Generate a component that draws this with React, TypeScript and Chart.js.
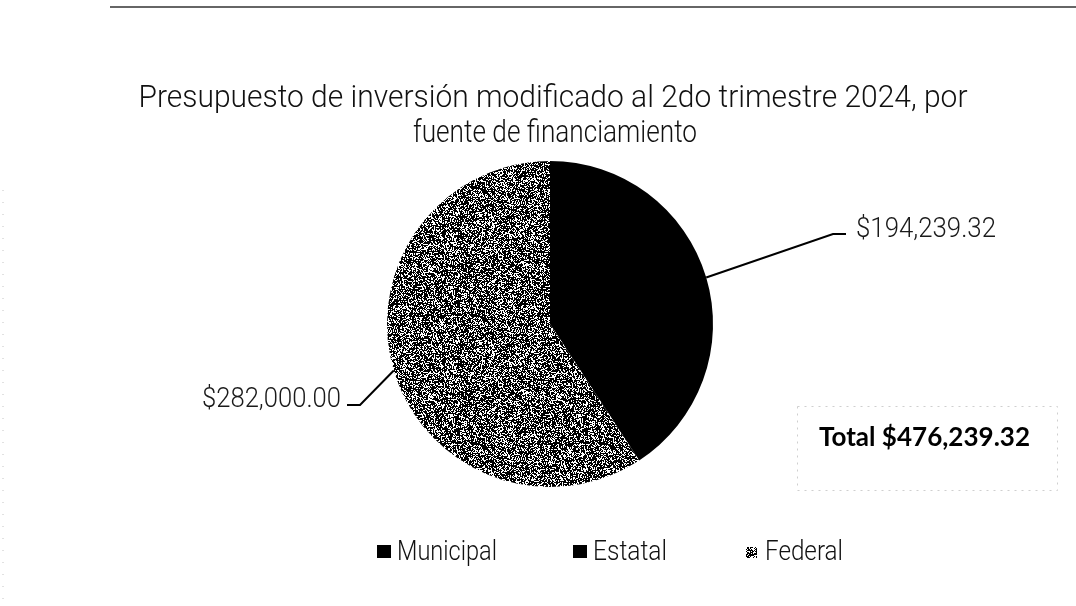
import React, { useEffect, useRef } from 'react';
import { Chart, registerables } from 'chart.js';

Chart.register(...registerables);

const categories = ['Municipal', 'Estatal', 'Federal'];
const values = [0, 194239.32, 282000.0];
const valueLabels = ['', '$194,239.32', '$282,000.00'];
const titleLines = [
  'Presupuesto de inversión modificado al 2do trimestre 2024, por',
  'fuente de financiamiento',
];
const totalLabel = 'Total $476,239.32';

// label layout (style/position only)
const labelLayout: Record<number, { elbow: [number, number]; end: [number, number]; tx: number; ty: number; w: number; align: CanvasTextAlign }> = {
  1: { elbow: [833, 234], end: [846, 234], tx: 856, ty: 237, w: 140, align: 'left' },
  2: { elbow: [360, 405], end: [347, 405], tx: 341, ty: 407, w: 139, align: 'right' },
};

function makePattern(): CanvasPattern | string {
  const N = 128;
  const c = document.createElement('canvas');
  c.width = N;
  c.height = N;
  const g = c.getContext('2d');
  if (!g) return '#666';
  const img = g.createImageData(N, N);
  for (let y = 0; y < N; y++) {
    for (let x = 0; x < N; x++) {
      let h = Math.imul(x + 1, 0x27d4eb2d) ^ Math.imul(y + 7, 0x165667b1);
      h = Math.imul(h ^ (h >>> 15), 0x85ebca6b);
      h = Math.imul(h ^ (h >>> 13), 0xc2b2ae35);
      h = h ^ (h >>> 16);
      const v = (h >>> 0) % 1000;
      const black = v < 640;
      const i = (y * N + x) * 4;
      const col = black ? 0 : 255;
      img.data[i] = col;
      img.data[i + 1] = col;
      img.data[i + 2] = col;
      img.data[i + 3] = 255;
    }
  }
  g.putImageData(img, 0, 0);
  return g.createPattern(c, 'repeat') || '#666';
}

function fitText(ctx: CanvasRenderingContext2D, text: string, x: number, y: number, font: string, targetW: number, align: CanvasTextAlign) {
  ctx.save();
  ctx.font = font;
  const w = ctx.measureText(text).width;
  const s = w > 0 ? targetW / w : 1;
  ctx.translate(x, y);
  ctx.scale(s, 1);
  ctx.textAlign = align;
  ctx.textBaseline = 'alphabetic';
  ctx.fillText(text, 0, 0);
  ctx.restore();
}

export default function App() {
  const ref = useRef<HTMLCanvasElement | null>(null);

  useEffect(() => {
    if (!ref.current) return;
    const pattern = makePattern();
    const colors: (string | CanvasPattern)[] = ['#000000', '#000000', pattern];

    const overlay = {
      id: 'overlay',
      afterDraw(chart: any) {
        const ctx: CanvasRenderingContext2D = chart.ctx;
        ctx.save();
        // scan artifacts: top rule and faint left dots
        ctx.strokeStyle = '#333';
        ctx.lineWidth = 1.5;
        ctx.beginPath();
        ctx.moveTo(110, 7);
        ctx.lineTo(1076, 7);
        ctx.stroke();
        ctx.strokeStyle = '#c4c4c4';
        ctx.lineWidth = 1;
        ctx.setLineDash([1, 11]);
        ctx.beginPath();
        ctx.moveTo(3, 190);
        ctx.lineTo(3, 606);
        ctx.stroke();
        ctx.setLineDash([]);

        // title
        ctx.fillStyle = '#111';
        fitText(ctx, titleLines[0], 553, 107, '300 31px Roboto', 829, 'center');
        fitText(ctx, titleLines[1], 555, 142, '300 31px Roboto', 284, 'center');

        // value labels with leader lines
        const meta = chart.getDatasetMeta(0);
        meta.data.forEach((arc: any, i: number) => {
          const lay = labelLayout[i];
          if (!lay || !values[i]) return;
          const p = arc.getProps(['x', 'y', 'startAngle', 'endAngle', 'outerRadius'], true);
          const mid = (p.startAngle + p.endAngle) / 2;
          const ex = p.x + Math.cos(mid) * p.outerRadius;
          const ey = p.y + Math.sin(mid) * p.outerRadius;
          ctx.strokeStyle = '#000';
          ctx.lineWidth = 2;
          ctx.beginPath();
          ctx.moveTo(ex, ey);
          ctx.lineTo(lay.elbow[0], lay.elbow[1]);
          ctx.lineTo(lay.end[0], lay.end[1]);
          ctx.stroke();
          ctx.fillStyle = '#1a1a1a';
          fitText(ctx, valueLabels[i], lay.tx, lay.ty, '300 28px Roboto', lay.w, lay.align);
        });

        // total box
        ctx.strokeStyle = '#cfcfcf';
        ctx.lineWidth = 1;
        ctx.setLineDash([2, 5]);
        ctx.strokeRect(797.5, 406.5, 260, 84);
        ctx.setLineDash([]);
        ctx.fillStyle = '#000';
        fitText(ctx, totalLabel, 819, 446, 'bold 27px Lato', 211, 'left');

        // legend
        const leg = [
          { box: [377, 545, 14, 13], tx: 397, w: 100 },
          { box: [573, 545, 14, 13], tx: 593, w: 74 },
          { box: [746, 547, 11, 11], tx: 765, w: 78 },
        ];
        leg.forEach((l, i) => {
          ctx.fillStyle = colors[i] as any;
          ctx.fillRect(l.box[0], l.box[1], l.box[2], l.box[3]);
          ctx.fillStyle = '#111';
          fitText(ctx, categories[i], l.tx, 560, '300 27px Roboto', l.w, 'left');
        });
        ctx.restore();
      },
    };

    const chart = new Chart(ref.current, {
      type: 'pie',
      data: {
        labels: categories,
        datasets: [
          {
            data: values,
            backgroundColor: colors as any,
            borderWidth: 0,
            hoverOffset: 0,
          },
        ],
      },
      options: {
        responsive: false,
        animation: false,
        events: [],
        layout: { padding: { top: 161, bottom: 119, left: 387, right: 363 } },
        plugins: {
          legend: { display: false },
          title: { display: false },
          tooltip: { enabled: false },
        },
      },
      plugins: [overlay],
    });
    return () => chart.destroy();
  }, []);

  return (
    <div style={{ position: 'fixed', left: 0, top: 0, width: 1076, height: 606, background: '#fff' }}>
      <canvas ref={ref} width={1076} height={606} style={{ display: 'block', width: 1076, height: 606 }} />
    </div>
  );
}
